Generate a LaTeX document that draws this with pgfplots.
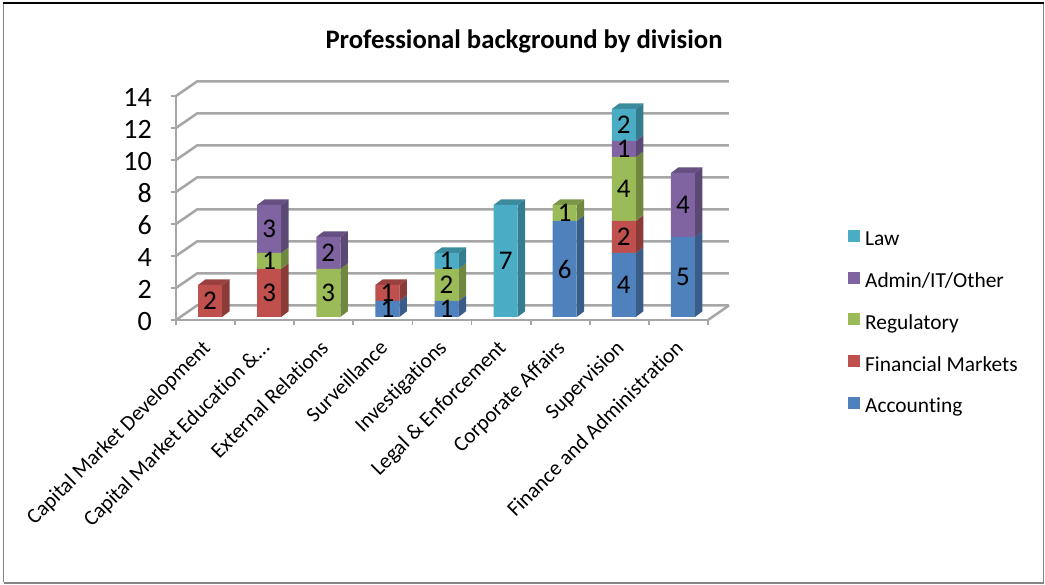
\documentclass[border=0pt]{standalone}
\usepackage{pgfplots}
\pgfplotsset{compat=1.18}
\usepackage{pgfplotstable}
\usepackage{fontspec}
\setmainfont[Ligatures=NoCommon]{Carlito}
\definecolor{cAcc}{HTML}{4F81BD}
\definecolor{cFin}{HTML}{C0504D}
\definecolor{cReg}{HTML}{9BBB59}
\definecolor{cAdm}{HTML}{8064A2}
\definecolor{cLaw}{HTML}{4BACC6}
\definecolor{gridc}{HTML}{A6A6A6}
\pgfplotstableread{
x acc fin reg adm law
0.5 0 2 0 0 0
1.5 0 3 1 3 0
2.5 0 0 3 2 0
3.5 1 1 0 0 0
4.5 1 0 2 0 1
5.5 0 0 0 0 7
6.5 6 0 1 0 0
7.5 4 2 4 1 2
8.5 5 0 0 4 0
}\tbl
\newcommand\px[1]{\fontsize{#1}{#1}\selectfont}
% back grid line at value #1
\newcommand\gridl[1]{%
  \pgfmathsetmacro\yb{#1+0.906}%
  \edef\tmp{\noexpand\addplot[gridc,line width=2.5pt,forget plot] coordinates {(0,#1)(0.355,\yb)(9.355,\yb)};}\tmp}
% side face of a segment: x-centre, y0, y1, colour
\newcommand\sideface[4]{%
  \pgfmathsetmacro\xa{#1+0.076+0.203}%
  \pgfmathsetmacro\xb{\xa+0.127}%
  \pgfmathsetmacro\ya{#2+0.1875}%
  \pgfmathsetmacro\yb{#3+0.1875}%
  \pgfmathsetmacro\yc{#2+0.1875+0.356}%
  \pgfmathsetmacro\yd{#3+0.1875+0.356}%
  \edef\tmp{\noexpand\addplot[fill=#4!72!black,draw=none,forget plot] coordinates {(\xa,\ya)(\xb,\yc)(\xb,\yd)(\xa,\yb)} --cycle;}\tmp}
% top face: x-centre, y, colour
\newcommand\topface[3]{%
  \pgfmathsetmacro\xa{#1+0.076-0.203}%
  \pgfmathsetmacro\xb{#1+0.076+0.203}%
  \pgfmathsetmacro\xc{\xb+0.127}%
  \pgfmathsetmacro\xd{\xa+0.127}%
  \pgfmathsetmacro\ya{#2+0.1875}%
  \pgfmathsetmacro\yb{#2+0.1875+0.356}%
  \edef\tmp{\noexpand\addplot[fill=#3!80!black,draw=none,forget plot] coordinates {(\xa,\ya)(\xb,\ya)(\xc,\yb)(\xd,\yb)} --cycle;}\tmp}
\pgfplotsset{common/.style={
  scale only axis,width=532pt,height=224pt,
  at={(176pt,265pt)},anchor=south west,
  xmin=0,xmax=9,ymin=0,ymax=14,clip=false,
  /pgf/number format/assume math mode=true}}
\begin{document}
\begin{tikzpicture}[x=1pt,y=1pt]
\path[use as bounding box] (0,0) rectangle (1045,585);
\draw[gridc!80!black,line width=1.2pt] (3.5,583) -- (3.5,3) ;
\draw[gridc!80!black,line width=1.2pt] (3.5,2) -- (1043.5,2) -- (1043.5,582);
\draw[black,line width=1.2pt] (3,582) -- (1043.5,582);
\node[font=\bfseries\px{26.7},anchor=center] at (524,544) {Professional background by division};
\begin{axis}[common,
  axis lines=left,axis line style={gridc,line width=2.5pt,-},
  ytick={0,2,...,14},
  xtick={0.5,1.5,...,8.5},
  xticklabels={Capital Market Development,Capital Market Education \&\dots,External Relations,Surveillance,Investigations,Legal \& Enforcement,Corporate Affairs,Supervision,Finance and Administration},
  x tick label style={rotate=45,anchor=north east,font=\px{21.4},inner sep=1pt,yshift=-5.2pt,xshift=-11.8pt},
  y tick label style={font=\px{28},inner sep=2pt,xshift=-17pt,yshift=-1.5pt},
  minor xtick={0,1,...,9},
  major x tick style={draw=none},
  minor x tick style={gridc,line width=1.8pt},
  y tick style={gridc,line width=1.8pt},
  tickwidth=5pt,subtickwidth=5pt,
  xtick pos=lower,ytick pos=left,tick align=outside,
]
\gridl{0}\gridl{2}\gridl{4}\gridl{6}\gridl{8}\gridl{10}\gridl{12}\gridl{14}
\addplot[gridc,line width=2.5pt,forget plot] coordinates {(9,0)(9.355,0.906)};
% category 1
\sideface{0.5}{0}{2}{cFin}\topface{0.5}{2}{cFin}
% category 2
\sideface{1.5}{0}{3}{cFin}\sideface{1.5}{3}{4}{cReg}\sideface{1.5}{4}{7}{cAdm}\topface{1.5}{7}{cAdm}
% category 3
\sideface{2.5}{0}{3}{cReg}\sideface{2.5}{3}{5}{cAdm}\topface{2.5}{5}{cAdm}
% category 4
\sideface{3.5}{0}{1}{cAcc}\sideface{3.5}{1}{2}{cFin}\topface{3.5}{2}{cFin}
% category 5
\sideface{4.5}{0}{1}{cAcc}\sideface{4.5}{1}{3}{cReg}\sideface{4.5}{3}{4}{cLaw}\topface{4.5}{4}{cLaw}
% category 6
\sideface{5.5}{0}{7}{cLaw}\topface{5.5}{7}{cLaw}
% category 7
\sideface{6.5}{0}{6}{cAcc}\sideface{6.5}{6}{7}{cReg}\topface{6.5}{7}{cReg}
% category 8
\sideface{7.5}{0}{4}{cAcc}\sideface{7.5}{4}{6}{cFin}\sideface{7.5}{6}{10}{cReg}\sideface{7.5}{10}{11}{cAdm}\sideface{7.5}{11}{13}{cLaw}\topface{7.5}{13}{cLaw}
% category 9
\sideface{8.5}{0}{5}{cAcc}\sideface{8.5}{5}{9}{cAdm}\topface{8.5}{9}{cAdm}
\end{axis}
\begin{axis}[common,
  axis lines=none,
  ybar stacked,bar width=24pt,
  every axis plot/.append style={xshift=4.5pt,yshift=3pt,draw=none},
  nodes near coords={\pgfmathfloatifflags{\pgfplotspointmeta}{0}{}{\pgfmathprintnumber[fixed,precision=0]{\pgfplotspointmeta}}},
  every node near coord/.append style={font=\px{27},text=black,anchor=center,inner sep=0pt},
  legend style={draw=none,fill=none,at={(rel axis cs:1.263,-0.0134)},anchor=west,font=\px{21.4},
    row sep=21.5pt,inner sep=0pt,/tikz/every odd column/.append style={column sep=3pt}},
  legend cell align=left,
  reverse legend,
  legend image code/.code={\fill[#1] (0pt,-6pt) rectangle (12pt,6pt);},
]
\addplot[fill=cAcc] table[x=x,y=acc]{\tbl};\addlegendentry{Accounting}
\addplot[fill=cFin] table[x=x,y=fin]{\tbl};\addlegendentry{Financial Markets}
\addplot[fill=cReg] table[x=x,y=reg]{\tbl};\addlegendentry{Regulatory}
\addplot[fill=cAdm] table[x=x,y=adm]{\tbl};\addlegendentry{Admin/IT/Other}
\addplot[fill=cLaw] table[x=x,y=law]{\tbl};\addlegendentry{Law}
\end{axis}
\end{tikzpicture}
\end{document}
